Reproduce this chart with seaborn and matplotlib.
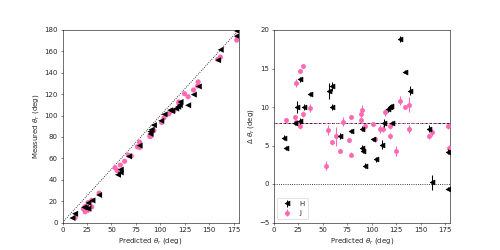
import numpy as np
import matplotlib
matplotlib.use("Agg")
import matplotlib.pyplot as plt
import seaborn as sns

# ---------------- data ----------------
# H band: predicted angle, offset (predicted - measured), error
h_pred = [10.2, 12.9, 22.1, 23.8, 26.5, 26.5, 30.6, 37.4, 56.7, 59.5, 59.5, 68.0,
          78.8, 89.7, 91.1, 90.0, 93.4, 100.9, 104.3, 110.1, 112.1, 116.2, 118.2,
          119.9, 120.6, 128.4, 134.2, 139.3, 159.0, 161.7, 178.4, 178.4]
h_delta = [6.0, 4.7, 7.9, 10.0, 13.6, 8.2, 10.0, 11.7, 12.1, 12.7, 10.0, 6.2,
           6.9, 4.7, 4.3, 7.2, 2.4, 5.8, 3.2, 5.1, 7.9, 9.7, 10.0,
           10.1, 7.9, 18.8, 14.6, 12.1, 7.2, 0.2, 4.2, -0.6]
h_err = [0.3, 0.3, 0.3, 0.8, 0.3, 0.4, 0.4, 0.3, 1.0, 0.6, 0.4, 0.4,
         0.3, 0.4, 0.3, 0.3, 0.3, 0.2, 0.3, 0.6, 0.5, 0.3, 0.3,
         0.3, 0.3, 0.4, 0.2, 0.6, 0.5, 1.0, 0.3, 0.2]

# J band
j_pred = [12.9, 21.4, 23.1, 23.1, 26.2, 26.2, 29.9, 29.9, 37.4, 53.7, 55.7, 59.1,
          63.5, 67.3, 70.3, 76.5, 78.8, 78.8, 89.4, 90.4, 89.4, 93.4, 101.3,
          103.6, 108.7, 111.5, 113.8, 118.9, 118.9, 124.7, 128.4, 133.9, 138.0,
          138.6, 158.7, 161.4, 178.0, 178.7]
j_delta = [8.3, 8.7, 13.1, 8.1, 14.7, 7.5, 15.3, 9.1, 9.9, 2.4, 7.0, 5.4,
           6.2, 4.3, 8.1, 5.7, 8.7, 3.8, 9.1, 9.6, 8.3, 7.5, 7.8,
           5.8, 7.1, 7.2, 9.3, 7.5, 6.2, 4.3, 10.8, 10.0, 10.3,
           7.1, 6.2, 6.7, 7.5, 4.7]
j_err = [0.2, 0.3, 0.5, 0.3, 0.3, 0.3, 0.2, 0.4, 0.5, 0.6, 0.7, 0.3,
         1.2, 0.3, 0.6, 0.3, 0.3, 0.3, 0.5, 0.6, 0.3, 0.3, 0.3,
         0.3, 0.5, 0.4, 0.5, 0.4, 0.4, 0.7, 0.6, 0.3, 1.0,
         0.5, 0.3, 0.5, 0.3, 0.4]

H_COLOR = "black"
J_COLOR = "#ff69b4"

h_pred = np.array(h_pred)
h_delta = np.array(h_delta)
j_pred = np.array(j_pred)
j_delta = np.array(j_delta)
h_meas = h_pred - h_delta
j_meas = j_pred - j_delta

# ---------------- figure ----------------
sns.set_style("white")
plt.rcParams["font.family"] = ["DejaVu Sans"]
plt.rcParams["xtick.bottom"] = True
plt.rcParams["ytick.left"] = True

fig, (ax1, ax2) = plt.subplots(1, 2, figsize=(10, 5), dpi=50)

# left: measured vs predicted
sns.scatterplot(x=j_pred, y=j_meas, color=J_COLOR, marker="o", s=55,
                edgecolor="none", ax=ax1, zorder=3)
sns.scatterplot(x=h_pred, y=h_meas, color=H_COLOR, marker="<", s=75,
                edgecolor="none", ax=ax1, zorder=4)
ax1.plot([0, 180], [0, 180], color="black", linestyle=":", linewidth=1.2)
ax1.set_xlim(0, 180)
ax1.set_ylim(0, 180)
ax1.set_xlabel(r"Predicted $\theta_r$ (deg)")
ax1.set_ylabel(r"Measured $\theta_r$ (deg)")

# right: offset vs predicted
ax2.errorbar(h_pred, h_delta, yerr=h_err, fmt="<", color=H_COLOR,
             markersize=7, elinewidth=1.5, label="H", zorder=4)
ax2.errorbar(j_pred, j_delta, yerr=j_err, fmt="o", color=J_COLOR,
             markersize=6, elinewidth=1.5, label="J", zorder=3)
ax2.axhline(h_delta.mean(), color=H_COLOR, linestyle="--", linewidth=1.2)
ax2.axhline(j_delta.mean(), color=J_COLOR, linestyle="--", linewidth=1.2,
            dashes=(2, 3))
ax2.axhline(0, color="black", linestyle=":", linewidth=1.2)
ax2.set_xlim(0, 180)
ax2.set_ylim(-5, 20)
ax2.set_xlabel(r"Predicted $\theta_r$ (deg)")
ax2.set_ylabel(r"$\Delta\ \theta_r$ (deg)")
ax2.legend(loc="lower left", frameon=True)

for ax in (ax1, ax2):
    for sp in ax.spines.values():
        sp.set_color("black")
        sp.set_linewidth(0.8)

fig.savefig("out.png", dpi=50)
